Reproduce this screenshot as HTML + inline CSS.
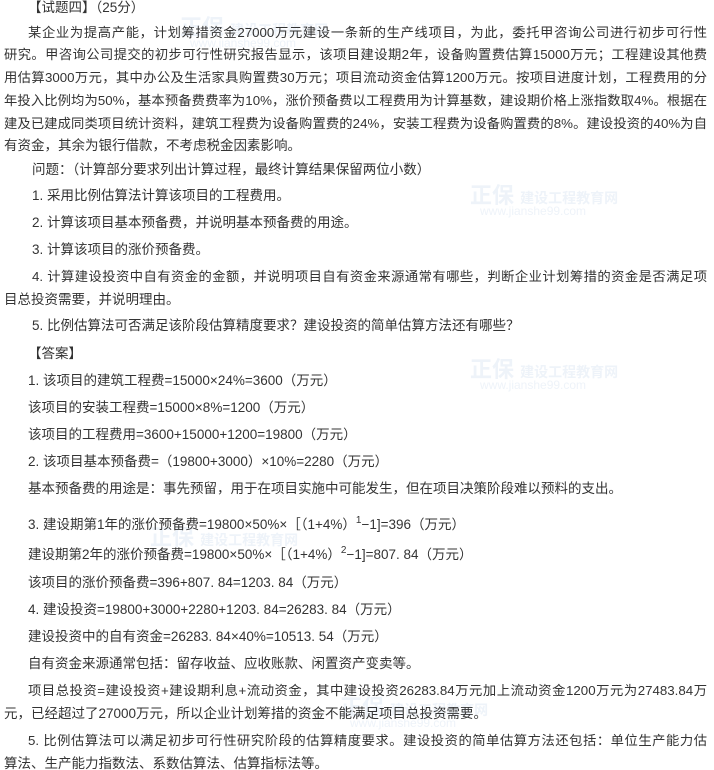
<!DOCTYPE html>
<html><head><meta charset="utf-8"><style>
html,body{margin:0;padding:0;background:#fff;width:714px;height:770px;overflow:hidden;position:relative}
.l{position:absolute;font-family:"Liberation Sans","Noto Sans CJK SC",sans-serif;font-size:13.5px;line-height:18px;color:#333;white-space:nowrap}
.j{text-align:justify;text-align-last:justify;white-space:normal;overflow:hidden;height:18px;font-size:13.3px}
.w{position:absolute;font-family:"Liberation Sans","Noto Sans CJK SC",sans-serif;color:#eef3f9;white-space:nowrap}
sup{font-size:10px;vertical-align:6px;line-height:0}
</style></head><body>
<div class="w" style="left:180px;top:10px;font-size:22px;font-weight:bold">正保 <span style="font-size:14px">建设工程教育网</span></div>
<div class="w" style="left:190px;top:36px;font-size:12px">www.jianshe99.com</div>
<div class="w" style="left:470px;top:178px;font-size:22px;font-weight:bold">正保 <span style="font-size:14px">建设工程教育网</span></div>
<div class="w" style="left:480px;top:204px;font-size:12px">www.jianshe99.com</div>
<div class="w" style="left:470px;top:352px;font-size:22px;font-weight:bold">正保 <span style="font-size:14px">建设工程教育网</span></div>
<div class="w" style="left:480px;top:378px;font-size:12px">www.jianshe99.com</div>
<div class="w" style="left:150px;top:520px;font-size:22px;font-weight:bold">正保 <span style="font-size:14px">建设工程教育网</span></div>
<div class="w" style="left:340px;top:690px;font-size:22px;font-weight:bold">正保 <span style="font-size:14px">建设工程教育网</span></div>
<div class="w" style="left:350px;top:716px;font-size:12px">www.jianshe99.com</div>

<div class="l" style="left:28px;top:-1px">【试题四】（25分）</div>
<div class="l j" style="left:28px;width:679px;top:24px">某企业为提高产能，计划筹措资金27000万元建设一条新的生产线项目，为此，委托甲咨询公司进行初步可行性</div>
<div class="l j" style="left:4px;width:703px;top:46px">研究。甲咨询公司提交的初步可行性研究报告显示，该项目建设期2年，设备购置费估算15000万元；工程建设其他费</div>
<div class="l j" style="left:4px;width:703px;top:69px">用估算3000万元，其中办公及生活家具购置费30万元；项目流动资金估算1200万元。按项目进度计划，工程费用的分</div>
<div class="l j" style="left:4px;width:703px;top:92px">年投入比例均为50%，基本预备费费率为10%，涨价预备费以工程费用为计算基数，建设期价格上涨指数取4%。根据在</div>
<div class="l j" style="left:4px;width:703px;top:115px">建及已建成同类项目统计资料，建筑工程费为设备购置费的24%，安装工程费为设备购置费的8%。建设投资的40%为自</div>
<div class="l" style="left:4px;top:137px">有资金，其余为银行借款，不考虑税金因素影响。</div>
<div class="l" style="left:32px;top:161px">问题：（计算部分要求列出计算过程，最终计算结果保留两位小数）</div>
<div class="l" style="left:32px;top:187px">1. 采用比例估算法计算该项目的工程费用。</div>
<div class="l" style="left:32px;top:214px">2. 计算该项目基本预备费，并说明基本预备费的用途。</div>
<div class="l" style="left:32px;top:241px">3. 计算该项目的涨价预备费。</div>
<div class="l j" style="left:32px;width:675px;top:268px">4. 计算建设投资中自有资金的金额，并说明项目自有资金来源通常有哪些，判断企业计划筹措的资金是否满足项</div>
<div class="l" style="left:4px;top:291px">目总投资需要，并说明理由。</div>
<div class="l" style="left:32px;top:317px">5. 比例估算法可否满足该阶段估算精度要求？建设投资的简单估算方法还有哪些？</div>
<div class="l" style="left:28px;top:345px">【答案】</div>
<div class="l" style="left:28px;top:372px">1. 该项目的建筑工程费=15000×24%=3600（万元）</div>
<div class="l" style="left:28px;top:399px">该项目的安装工程费=15000×8%=1200（万元）</div>
<div class="l" style="left:28px;top:426px">该项目的工程费用=3600+15000+1200=19800（万元）</div>
<div class="l" style="left:28px;top:453px">2. 该项目基本预备费=（19800+3000）×10%=2280（万元）</div>
<div class="l" style="left:28px;top:480px">基本预备费的用途是：事先预留，用于在项目实施中可能发生，但在项目决策阶段难以预料的支出。</div>
<div class="l" style="left:28px;top:516px">3. 建设期第1年的涨价预备费=19800×50%×［（1+4%）<sup>1</sup>−1]=396（万元）</div>
<div class="l" style="left:28px;top:546px">建设期第2年的涨价预备费=19800×50%×［（1+4%）<sup>2</sup>−1]=807. 84（万元）</div>
<div class="l" style="left:28px;top:574px">该项目的涨价预备费=396+807. 84=1203. 84（万元）</div>
<div class="l" style="left:28px;top:601px">4. 建设投资=19800+3000+2280+1203. 84=26283. 84（万元）</div>
<div class="l" style="left:28px;top:628px">建设投资中的自有资金=26283. 84×40%=10513. 54（万元）</div>
<div class="l" style="left:28px;top:655px">自有资金来源通常包括：留存收益、应收账款、闲置资产变卖等。</div>
<div class="l j" style="left:28px;width:679px;top:682px">项目总投资=建设投资+建设期利息+流动资金，其中建设投资26283.84万元加上流动资金1200万元为27483.84万</div>
<div class="l" style="left:4px;top:705px">元，已经超过了27000万元，所以企业计划筹措的资金不能满足项目总投资需要。</div>
<div class="l j" style="left:28px;width:679px;top:732px">5. 比例估算法可以满足初步可行性研究阶段的估算精度要求。建设投资的简单估算方法还包括：单位生产能力估</div>
<div class="l" style="left:4px;top:755px">算法、生产能力指数法、系数估算法、估算指标法等。</div>
</body></html>
